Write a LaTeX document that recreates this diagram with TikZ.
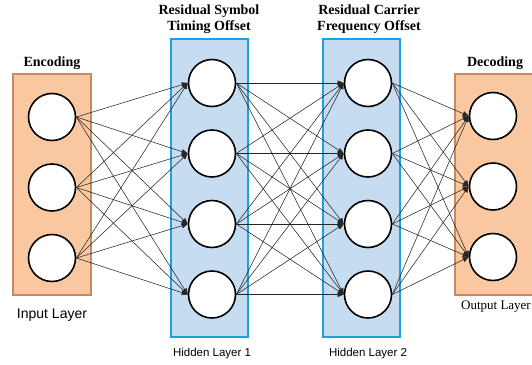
\documentclass[tikz,border=0pt]{standalone}
\usepackage{fontspec}
\setmainfont{Liberation Serif}
\setsansfont{Liberation Sans}
\usetikzlibrary{arrows.meta}

\begin{document}
\begin{tikzpicture}[x=1pt, y=-1pt,
    neuron/.style={circle, draw=black, line width=1.6pt, fill=white, minimum size=47pt, inner sep=0pt},
    link/.style={draw=black!85, line width=0.55pt, -{Triangle[length=6pt,width=5pt]}},
    codebox/.style={draw=borderColourA, fill=fillColourA, line width=1.5pt},
    hiddenbox/.style={draw=borderColourB, fill=fillColourB, line width=2.5pt},
    title/.style={font=\bfseries\fontsize{14}{15.5}\selectfont, align=center},
    caption/.style={font=\sffamily\fontsize{11.5}{13}\selectfont}]
    \def\rowSep{70.5}

    \definecolor{borderColourA}{HTML}{C48A62}
    \definecolor{fillColourA}{HTML}{FAC8A0}
    \definecolor{borderColourB}{HTML}{1E9FE0}
    \definecolor{fillColourB}{HTML}{C6DCF0}

    \useasboundingbox (0,0) rectangle (532,364);
    \clip (0,0) rectangle (532,364);

    % Draw layer boxes
    \draw[codebox] (13,74) rectangle (91,295);
    \draw[hiddenbox] (171,39) rectangle (248,337);
    \draw[hiddenbox] (323,39) rectangle (400,337);
    \draw[codebox] (455,74) rectangle (540,295);

    % Draw neurons
    \foreach \i in {1,2,3}
        \node[neuron] (in\i) at (52,{117+(\i-1)*\rowSep}) {};
    \foreach \i in {1,...,4}
        \node[neuron] (ha\i) at (212,{83+(\i-1)*\rowSep}) {};
    \foreach \i in {1,...,4}
        \node[neuron] (hb\i) at (368,{83+(\i-1)*\rowSep}) {};
    \foreach \i in {1,2,3}
        \node[neuron] (out\i) at (493,{116+(\i-1)*\rowSep}) {};

    % Draw links between layers
    \foreach \i in {1,2,3}
        \foreach \j in {1,...,4}
            \draw[link] (in\i.east) -- (ha\j.west);
    \foreach \i in {1,...,4}
        \foreach \j in {1,...,4}
            \draw[link] (ha\i.east) -- (hb\j.west);
    \foreach \i in {1,...,4}
        \foreach \j in {1,2,3}
            \draw[link] (hb\i.east) -- (out\j.west);

    % Label layers
    \node[title] (enc) at (52,63) {Encoding};
    \node[title] (rsto) at (209,19) {Residual Symbol\\Timing Offset};
    \node[title] (rcfo) at (369,19) {Residual Carrier\\Frequency Offset};
    \node[title] (dec) at (495,63) {Decoding};
    \node[caption, font=\sffamily\fontsize{14}{16}\selectfont] (inlab) at (52,315) {Input Layer};
    \node[caption] (h1lab) at (212,354) {Hidden Layer 1};
    \node[caption] (h2lab) at (368,354) {Hidden Layer 2};
    \node[anchor=east, inner sep=1pt, font=\fontsize{13}{15}\selectfont] (outlab) at (532,307) {Output Layer};

\end{tikzpicture}
\end{document}
